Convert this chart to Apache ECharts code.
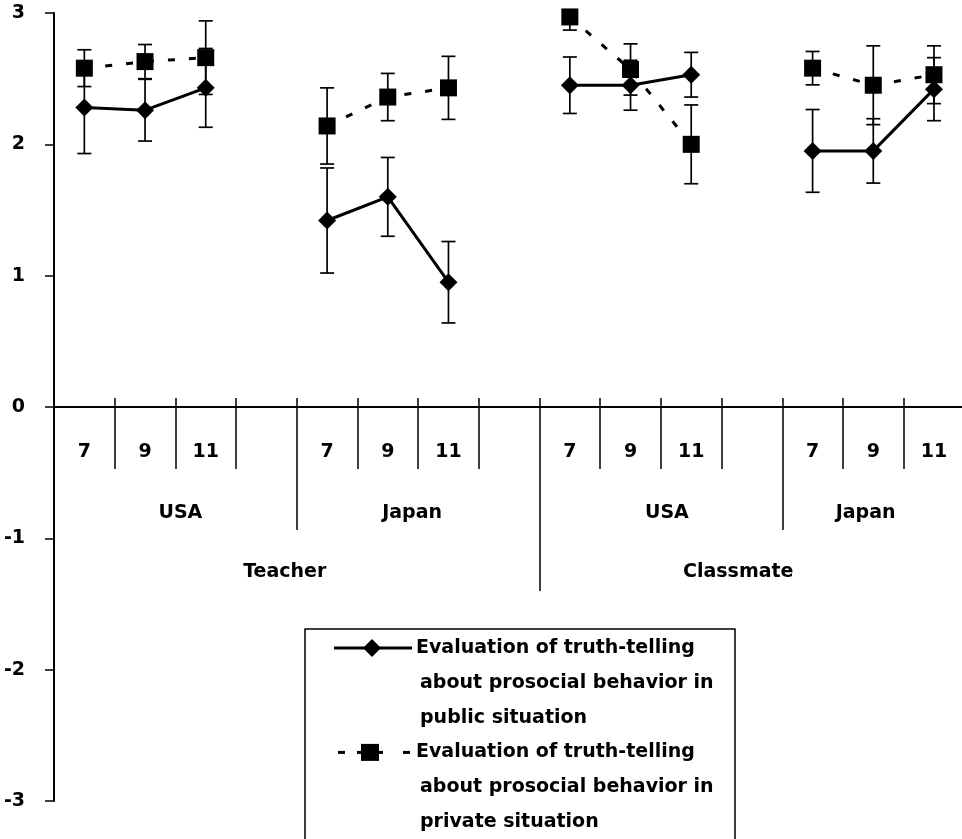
<!DOCTYPE html>
<html>
<head>
<meta charset="utf-8">
<script src="https://cdn.jsdelivr.net/npm/echarts@6/dist/echarts.min.js"></script>
<style>
  html, body { margin: 0; padding: 0; background: #fff; }
  #chart { width: 962px; height: 839px; }
</style>
</head>
<body>
<div id="chart"></div>
<script>
// ages per slot, blank slot closes each country group
var ages = ['7', '9', '11', '', '7', '9', '11', '', '7', '9', '11', '', '7', '9', '11', ''];
var countries = ['USA', 'Japan', 'USA', 'Japan'];
var targets = ['Teacher', 'Classmate'];

var publicMean = [2.28, 2.26, 2.43, null, 1.42, 1.60, 0.95, null, 2.45, 2.45, 2.53, null, 1.95, 1.95, 2.42, null];
var publicErr = [0.35, 0.235, 0.30, null, 0.40, 0.30, 0.31, null, 0.215, 0.19, 0.17, null, 0.315, 0.245, 0.24, null];
var privateMean = [2.58, 2.63, 2.66, null, 2.14, 2.36, 2.43, null, 2.97, 2.57, 2.00, null, 2.58, 2.45, 2.53, null];
var privateErr = [0.14, 0.13, 0.28, null, 0.29, 0.18, 0.24, null, 0.10, 0.195, 0.30, null, 0.127, 0.30, 0.22, null];

var publicLegend = ['Evaluation of truth-telling', 'about prosocial behavior in', 'public situation'];
var privateLegend = ['Evaluation of truth-telling', 'about prosocial behavior in', 'private situation'];

// label nudges (px to the right) so group names sit like the original
var countryShift = [5, -6, 6, -38];
var targetShift = [-12, -44];

var FONT = 'DejaVu Sans';
var axisText = { fontFamily: FONT, fontWeight: 'bold', fontSize: 19, color: '#000' };
var tickStyle = { color: '#000', width: 1.5 };

function shifted(names, shifts) {
  return names.map(function (n, i) {
    var s = shifts[i] * 2;
    return { value: n, textStyle: { padding: s > 0 ? [0, 0, 0, s] : [0, -s, 0, 0] } };
  });
}

function errData(mean, err) {
  var out = [];
  mean.forEach(function (m, i) {
    if (m != null) out.push([i, m, err[i]]);
  });
  return out;
}

function renderErrorBar(params, api) {
  var x = api.value(0), m = api.value(1), e = api.value(2);
  var hi = api.coord([x, m + e]);
  var lo = api.coord([x, m - e]);
  var half = 7;
  var st = { stroke: '#000', lineWidth: 1.7 };
  return {
    type: 'group',
    children: [
      { type: 'line', shape: { x1: hi[0], y1: hi[1], x2: lo[0], y2: lo[1] }, style: st },
      { type: 'line', shape: { x1: hi[0] - half, y1: hi[1], x2: hi[0] + half, y2: hi[1] }, style: st },
      { type: 'line', shape: { x1: lo[0] - half, y1: lo[1], x2: lo[0] + half, y2: lo[1] }, style: st }
    ]
  };
}

var myChart = echarts.init(document.getElementById('chart'));

// legend drawn by hand: multi-line labels with the icon on the first line
var legendFont = 'bold 19px "' + FONT + '"';
var lineGap = 34.8;
var firstY = 648;
var secondY = firstY + 3 * lineGap;
var legendItems = [];
legendItems.push({ type: 'rect', shape: { x: 305, y: 629, width: 430, height: 240 }, style: { fill: '#fff', stroke: '#000', lineWidth: 1.5 } });
legendItems.push({ type: 'line', shape: { x1: 334, y1: firstY, x2: 412, y2: firstY }, style: { stroke: '#000', lineWidth: 3 } });
legendItems.push({ type: 'polygon', shape: { points: [[372, firstY - 9], [381, firstY], [372, firstY + 9], [363, firstY]] }, style: { fill: '#000' } });
[[338, 345], [357, 383], [403, 410]].forEach(function (seg) {
  legendItems.push({ type: 'line', shape: { x1: seg[0], y1: secondY, x2: seg[1], y2: secondY }, style: { stroke: '#000', lineWidth: 3 } });
});
legendItems.push({ type: 'rect', shape: { x: 361, y: secondY - 8.5, width: 18, height: 17 }, style: { fill: '#000' } });
publicLegend.concat(privateLegend).forEach(function (t, i) {
  legendItems.push({
    type: 'text', x: i % 3 === 0 ? 416 : 420, y: firstY + i * lineGap,
    style: { text: t, font: legendFont, fill: '#000', verticalAlign: 'middle' }
  });
});

// category axes hung under the zero line (grid 1 ends at y = 0)
function groupAxis(data, tickLen, margin, showLine) {
  return {
    type: 'category', gridIndex: 1, data: data, position: 'bottom',
    axisLine: { show: !!showLine, onZero: false, lineStyle: { color: '#000', width: 2 } },
    axisTick: { show: true, interval: 0, length: tickLen, lineStyle: tickStyle },
    axisLabel: margin == null ? { show: false } : Object.assign({ interval: 0, margin: margin }, axisText),
    splitLine: { show: false }
  };
}

var option = {
  animation: false,
  backgroundColor: '#fff',
  grid: [
    { left: 54, top: 13, width: 971, height: 788, outerBoundsMode: 'none' },
    { left: 54, top: 13, width: 971, height: 394, outerBoundsMode: 'none' }
  ],
  xAxis: [
    { type: 'category', gridIndex: 0, data: ages, show: false },
    groupAxis(ages, 62, 36, true),
    Object.assign(groupAxis(ages, 9, null), { axisTick: { show: true, inside: true, interval: 0, length: 9, lineStyle: tickStyle } }),
    groupAxis(shifted(countries, countryShift), 123, 97),
    groupAxis(shifted(targets, targetShift), 184, 156)
  ],
  yAxis: [
    {
      type: 'value', gridIndex: 0, min: -3, max: 3, interval: 1,
      axisLine: { show: true, lineStyle: { color: '#000', width: 2 } },
      axisTick: { show: true, length: 9, lineStyle: tickStyle },
      axisLabel: Object.assign({ margin: 29 }, axisText),
      splitLine: { show: false }
    },
    { type: 'value', gridIndex: 1, min: 0, max: 3, show: false }
  ],
  series: [
    {
      type: 'custom', name: 'private-err', xAxisIndex: 0, yAxisIndex: 0, clip: true, z: 1,
      renderItem: renderErrorBar, encode: { x: 0, y: 1 },
      data: errData(privateMean, privateErr)
    },
    {
      type: 'custom', name: 'public-err', xAxisIndex: 0, yAxisIndex: 0, clip: true, z: 1,
      renderItem: renderErrorBar, encode: { x: 0, y: 1 },
      data: errData(publicMean, publicErr)
    },
    {
      type: 'line', name: privateLegend.join(' '), xAxisIndex: 0, yAxisIndex: 0, z: 2,
      data: privateMean,
      symbol: 'rect', symbolSize: 17,
      itemStyle: { color: '#000' },
      lineStyle: { color: '#000', width: 3, type: [7, 14] }
    },
    {
      type: 'line', name: publicLegend.join(' '), xAxisIndex: 0, yAxisIndex: 0, z: 3,
      data: publicMean,
      symbol: 'diamond', symbolSize: 18,
      itemStyle: { color: '#000' },
      lineStyle: { color: '#000', width: 3 }
    }
  ],
  graphic: [{ type: 'group', z: 100, children: legendItems }]
};

myChart.setOption(option);
</script>
</body>
</html>
